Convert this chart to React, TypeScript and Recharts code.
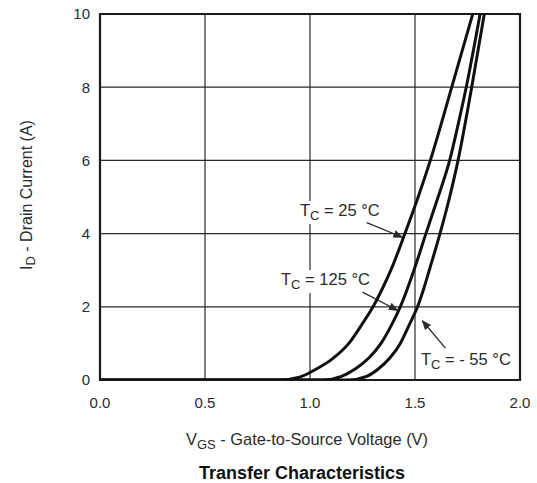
import React from 'react'
import {
  LineChart,
  Line,
  XAxis,
  YAxis,
  CartesianGrid,
  ReferenceArea,
} from 'recharts'

// I_D vs V_GS
const vgs25 = [0, 0.85, 0.95, 1.03, 1.1, 1.185, 1.245, 1.3, 1.345, 1.385, 1.452, 1.515, 1.573, 1.675, 1.775]
const id25 = [0, 0, 0.08, 0.3, 0.55, 1.0, 1.5, 2.0, 2.5, 3.0, 4.0, 5.0, 6.0, 8.0, 10.0]

const vgs125 = [0, 1.06, 1.15, 1.215, 1.28, 1.338, 1.388, 1.43, 1.495, 1.552, 1.61, 1.665, 1.706, 1.744, 1.81]
const id125 = [0, 0, 0.1, 0.3, 0.6, 1.0, 1.5, 2.0, 3.0, 4.0, 5.0, 6.0, 7.0, 8.0, 10.0]

const vgsM55 = [0, 1.18, 1.27, 1.325, 1.38, 1.43, 1.472, 1.512, 1.542, 1.568, 1.619, 1.665, 1.705, 1.77, 1.83]
const idM55 = [0, 0, 0.1, 0.3, 0.6, 1.0, 1.5, 2.0, 2.5, 3.0, 4.0, 5.0, 6.0, 8.0, 10.0]

const xTicks = [0, 0.5, 1.0, 1.5, 2.0]
const yTicks = [0, 2, 4, 6, 8, 10]

const toPoints = (xs: number[], ys: number[]) => xs.map((v, i) => ({ v, id: ys[i] }))

const FONT = '"Liberation Sans", Arial, Helvetica, sans-serif'
const INK = '#2b2b2b'

// plot box in page pixels (used for the annotations only)
const PL = 100
const PT = 14
const PW = 420
const PH = 366
const sx = (v: number) => PL + (v / 2) * PW
const sy = (i: number) => PT + PH - (i / 10) * PH

function TcLabel({ x, y, temp, w }: { x: number; y: number; temp: string; w: number }) {
  return (
    <g>
      <rect x={x - 3} y={y - 15} width={w} height={23} fill="#fff" />
      <text x={x} y={y} fontFamily={FONT} fontSize={16.5} fill={INK}>
        T
        <tspan fontSize={13} dy={4}>C</tspan>
        <tspan dy={-4}>{` = ${temp} °C`}</tspan>
      </text>
    </g>
  )
}

function Arrow({ x1, y1, x2, y2 }: { x1: number; y1: number; x2: number; y2: number }) {
  return (
    <line
      x1={x1}
      y1={y1}
      x2={x2}
      y2={y2}
      stroke={INK}
      strokeWidth={1.3}
      markerEnd="url(#arrowhead)"
    />
  )
}

function Annotations() {
  return (
    <g>
      <defs>
        <marker
          id="arrowhead"
          markerWidth="10"
          markerHeight="8"
          refX="9"
          refY="4"
          orient="auto"
          markerUnits="userSpaceOnUse"
        >
          <path d="M0,0 L10,4 L0,8 z" fill={INK} />
        </marker>
      </defs>
      <TcLabel x={300} y={216} temp="25" w={88} />
      <TcLabel x={281} y={285} temp="125" w={98} />
      <TcLabel x={421} y={365} temp="- 55" w={98} />
      <Arrow x1={sx(1.27)} y1={sy(4.3)} x2={sx(1.44)} y2={sy(3.9)} />
      <Arrow x1={sx(1.25)} y1={sy(2.4)} x2={sx(1.418)} y2={sy(1.9)} />
      <Arrow x1={sx(1.645)} y1={sy(0.87)} x2={sx(1.535)} y2={sy(1.62)} />
    </g>
  )
}

export default function App() {
  return (
    <div style={{ position: 'absolute', left: 0, top: 0, width: 537, height: 483, background: '#fff' }}>
      <LineChart
        width={537}
        height={483}
        margin={{ top: 14, right: 17, bottom: 73, left: 40 }}
      >
        <CartesianGrid stroke={INK} strokeWidth={1.2} horizontalValues={yTicks} verticalValues={xTicks} />
        <XAxis
          type="number"
          dataKey="v"
          domain={[0, 2]}
          ticks={xTicks}
          tickFormatter={(t: number) => t.toFixed(1)}
          tickLine={false}
          axisLine={false}
          tickSize={0}
          tickMargin={17}
          height={30}
          allowDataOverflow
          tick={{ fill: INK, fontSize: 15, fontFamily: FONT }}
        />
        <YAxis
          type="number"
          domain={[0, 10]}
          ticks={yTicks}
          tickLine={false}
          axisLine={false}
          tickSize={0}
          tickMargin={10}
          width={60}
          allowDataOverflow
          tick={{ fill: INK, fontSize: 15, fontFamily: FONT }}
        />
        <ReferenceArea x1={0} x2={2} y1={0} y2={10} fill="none" stroke="#1a1a1a" strokeWidth={2.2} ifOverflow="visible" />
        <Line data={toPoints(vgs25, id25)} dataKey="id" type="monotone" stroke="#111" strokeWidth={3} dot={false} isAnimationActive={false} />
        <Line data={toPoints(vgs125, id125)} dataKey="id" type="monotone" stroke="#111" strokeWidth={3} dot={false} isAnimationActive={false} />
        <Line data={toPoints(vgsM55, idM55)} dataKey="id" type="monotone" stroke="#111" strokeWidth={3} dot={false} isAnimationActive={false} />
        <Annotations />
        <text x={26} y={195} transform="rotate(-90 26 195)" textAnchor="middle" dominantBaseline="central" fontFamily={FONT} fontSize={16} fill={INK}>
          I
          <tspan fontSize={13} dy={4}>D</tspan>
          <tspan dy={-4}> - Drain Current (A)</tspan>
        </text>
        <text x={307} y={445} textAnchor="middle" fontFamily={FONT} fontSize={16.4} fill={INK}>
          V
          <tspan fontSize={13} dy={4}>GS</tspan>
          <tspan dy={-4}> - Gate-to-Source Voltage (V)</tspan>
        </text>
        <text x={302} y={479} textAnchor="middle" fontFamily={FONT} fontSize={18} fontWeight="bold" fill="#111">
          Transfer Characteristics
        </text>
      </LineChart>
    </div>
  )
}
